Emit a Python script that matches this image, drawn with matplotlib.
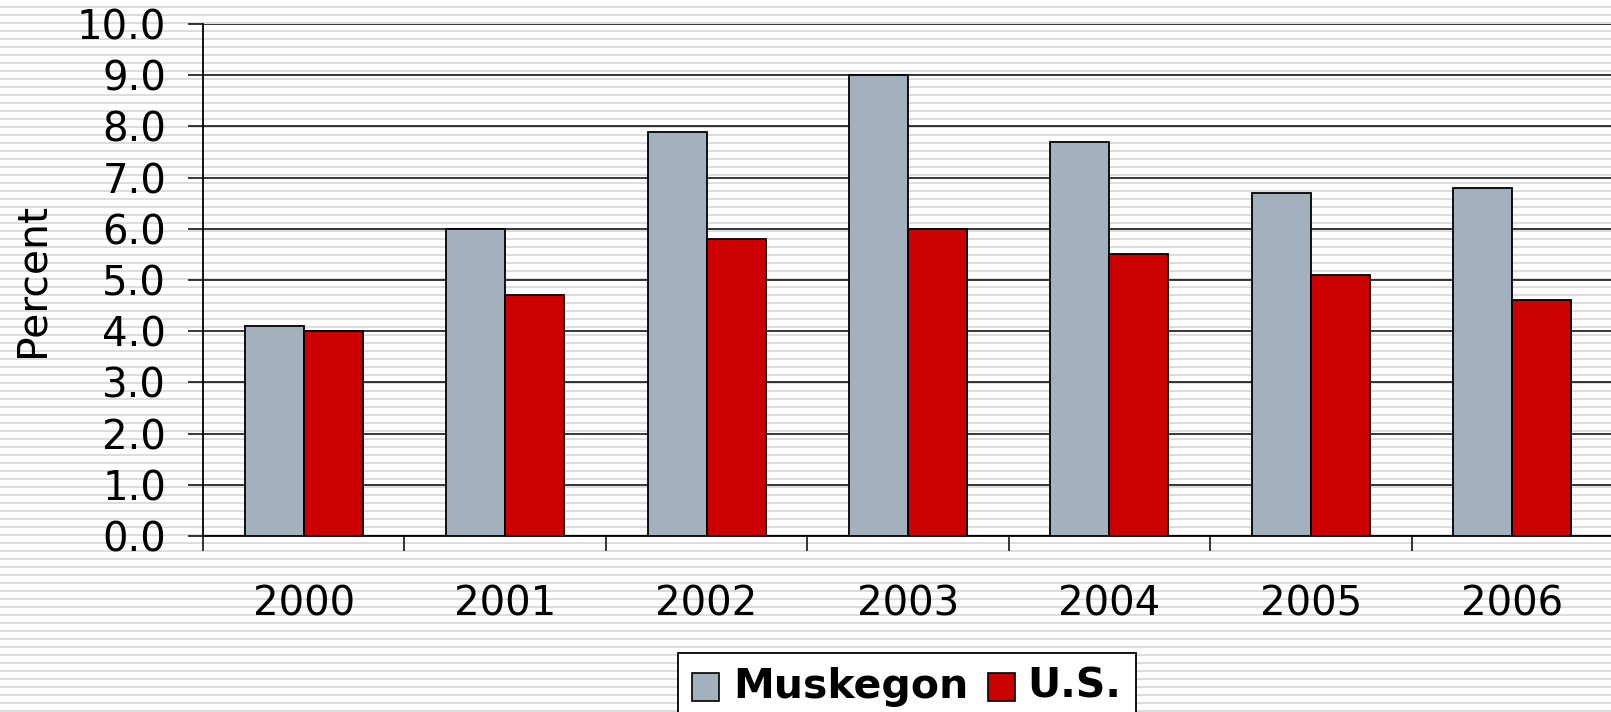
import matplotlib
matplotlib.use("Agg")
import matplotlib.pyplot as plt
from matplotlib.patches import Rectangle
import numpy as np

years = ["2000", "2001", "2002", "2003", "2004", "2005", "2006"]
muskegon = [4.1, 6.0, 7.9, 9.0, 7.7, 6.7, 6.8]
us = [4.0, 4.7, 5.8, 6.0, 5.5, 5.1, 4.6]
series_names = ["Muskegon", "U.S."]
colors = ["#a3b1bf", "#cc0000"]
yticks = np.arange(0, 10.01, 1.0)

W, H = 1611, 712
fig = plt.figure(figsize=(W / 100, H / 100), dpi=100)
fig.patch.set_facecolor("white")

# striped background
bg = fig.add_axes([0, 0, 1, 1], zorder=-10)
bg.set_xlim(0, W)
bg.set_ylim(H, 0)
bg.axis("off")
for y in range(6 - 8, H, 8):
    bg.axhspan(y, y + 2.2, color="#dcdcdc", lw=0)

left, right, top, bottom = 203, 1613, 24, 536
ax = fig.add_axes([left / W, (H - bottom) / H, (right - left) / W, (bottom - top) / H])
ax.set_facecolor("none")

x = np.arange(len(years))
bw = 0.293
ax.bar(x - bw, muskegon, width=bw, align="edge", color=colors[0],
       edgecolor="black", linewidth=1.3, zorder=3)
ax.bar(x, us, width=bw, align="edge", color=colors[1],
       edgecolor="black", linewidth=1.3, zorder=3)

ax.set_xlim(-0.5, len(years) - 0.5)
ax.set_ylim(0, 10)
ax.set_yticks(yticks)
ax.set_yticklabels([f"{v:.1f}" for v in yticks])
ax.yaxis.grid(True, color="black", linewidth=1.1, zorder=1)
ax.set_axisbelow(True)

ax.set_xticks(np.arange(-0.5, len(years), 1.0))
ax.set_xticklabels([])
ax.set_xticks(x, minor=True)
ax.set_xticklabels(years, minor=True)
ax.tick_params(axis="x", which="major", direction="out", length=11, width=1.1, color="black")
ax.tick_params(axis="x", which="minor", length=0, pad=35, labelsize=29)
ax.tick_params(axis="y", direction="out", length=11, width=1.1, pad=15.5, labelsize=29)

for s in ["top", "right"]:
    ax.spines[s].set_visible(False)
for s in ["left", "bottom"]:
    ax.spines[s].set_linewidth(1.3)

ax.set_ylabel("Percent", fontsize=29.5)
ax.yaxis.label.set_ha("center")
ax.yaxis.label.set_va("center")
ax.yaxis.set_label_coords((32 - left) / (right - left), 0.5)

# legend (manual, pixel placement)
def px(xp, yp):
    return xp / W, 1 - yp / H

lx0, ly0, lx1, ly1 = 678, 653, 1136, 720
fig.patches.append(Rectangle(px(lx0, ly1), (lx1 - lx0) / W, (ly1 - ly0) / H,
                             transform=fig.transFigure, facecolor="white",
                             edgecolor="black", linewidth=1.3, zorder=5))
entries = [(692, 733), (988, 1027)]
for (sx, tx), name, col in zip(entries, series_names, colors):
    fig.patches.append(Rectangle(px(sx, 701), 27 / W, 28 / H,
                                 transform=fig.transFigure, facecolor=col,
                                 edgecolor="black", linewidth=1.2, zorder=6))
    fig.text(*px(tx, 687), name, fontsize=29.5, fontweight="bold",
             family="DejaVu Sans", ha="left", va="center", zorder=7)

fig.savefig("out.png", dpi=100, facecolor="white")
